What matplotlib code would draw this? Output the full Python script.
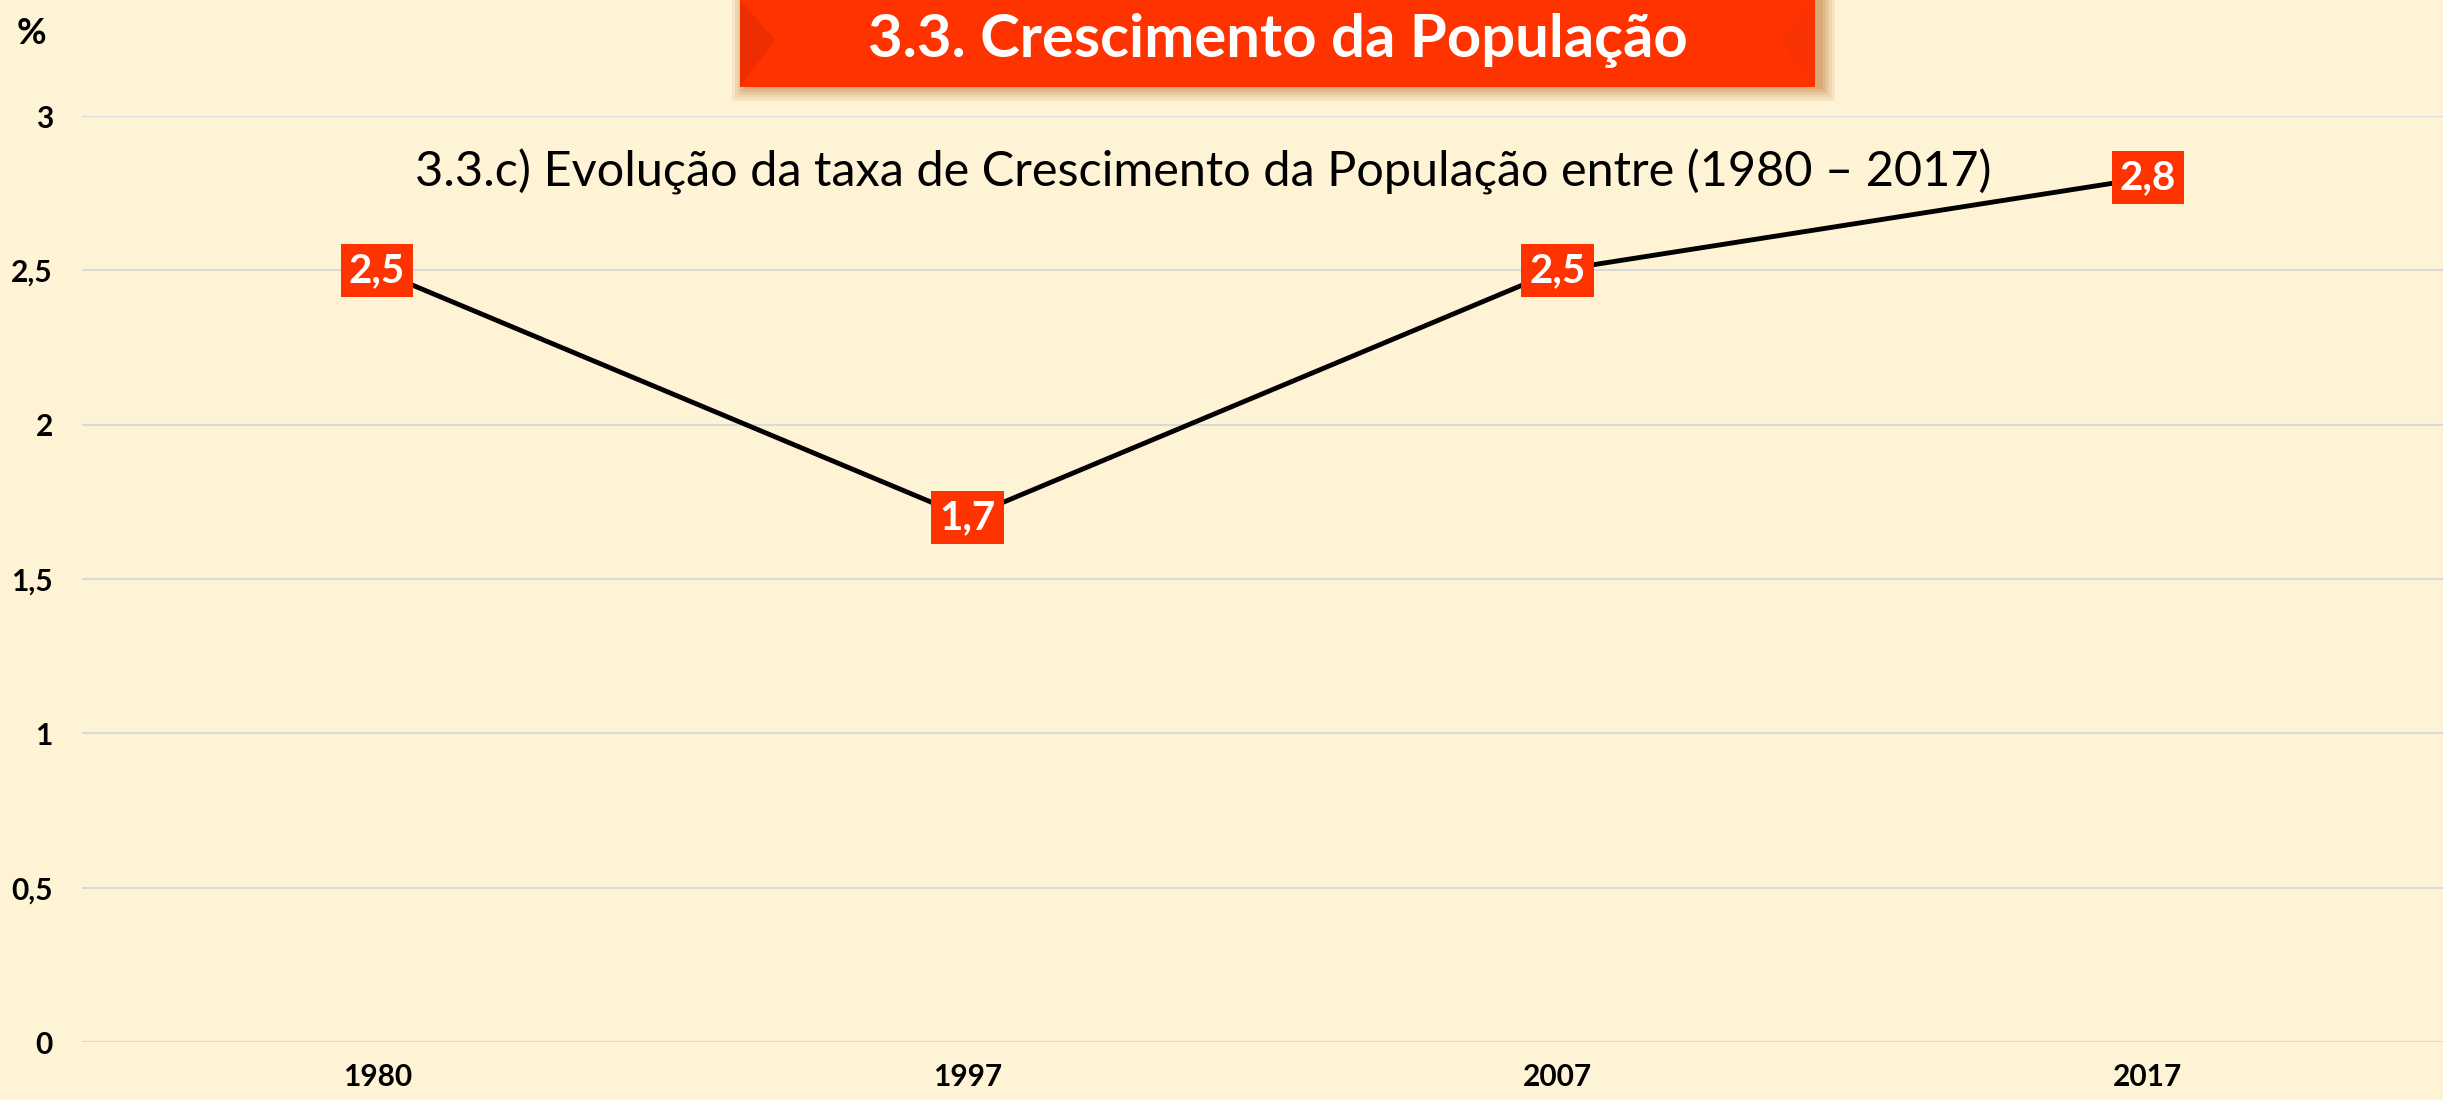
import matplotlib.pyplot as plt
from matplotlib.patches import Rectangle, Polygon

plt.rcParams['font.family'] = ['Lato', 'DejaVu Sans']

anos = ['1980', '1997', '2007', '2017']
taxa = [2.5, 1.7, 2.5, 2.8]
rotulos = ['2,5', '1,7', '2,5', '2,8']
yticks = [0, 0.5, 1, 1.5, 2, 2.5, 3]
ylabels = ['0', '0,5', '1', '1,5', '2', '2,5', '3']

W, H = 2443, 1100
bg = '#FFF3D6'
laranja = '#FF3300'

fig = plt.figure(figsize=(W / 100, H / 100), dpi=100, facecolor=bg)
ax = fig.add_axes([82 / W, 1 - 1042 / H, 1 - 82 / W, (1042 - 116) / H])
ax.set_facecolor(bg)

x = list(range(len(anos)))
ax.plot(x, taxa, color='black', lw=3.5, zorder=3)
for xi, yi, r in zip(x, taxa, rotulos):
    ax.text(xi, yi, r, ha='center', va='center', color='white', fontsize=29,
            fontweight='bold', zorder=4,
            bbox=dict(boxstyle='square,pad=0.2', fc=laranja, ec='none'))

ax.set_xlim(-0.5, 3.5)
ax.set_ylim(0, 3)
ax.set_xticks(x)
ax.set_xticklabels(anos, fontsize=21.5, fontweight='bold')
ax.set_yticks(yticks)
ax.set_yticklabels(ylabels, fontsize=21.5, fontweight='bold')
ax.tick_params(axis='both', length=0)
ax.tick_params(axis='y', pad=21)
ax.tick_params(axis='x', pad=15)
ax.grid(axis='y', color='#D9D9D9', lw=1.5)
ax.set_axisbelow(True)
for s in ax.spines.values():
    s.set_visible(False)

ax.text(0.475, 0.94, '3.3.c) Evolução da taxa de Crescimento da População entre (1980 \u2013 2017)',
        transform=ax.transAxes, ha='center', va='center', fontsize=35)

fig.text(31 / W, 1 - 34 / H, '%', ha='center', va='center', fontsize=26, fontweight='bold')

# caixa do título com sombra
x0, x1, y1 = 740, 1815, 87
for i, a in enumerate([0.10, 0.10, 0.12, 0.15, 0.18]):
    off = 14 - i * 3
    fig.patches.append(Rectangle(((x0 - off + 6) / W, 1 - (y1 + off) / H),
                                 (x1 - x0 + 2 * off) / W, (y1 + off) / H,
                                 transform=fig.transFigure, fc='#B5651D', ec='none', alpha=a))
fig.patches.append(Rectangle((x0 / W, 1 - y1 / H), (x1 - x0) / W, y1 / H,
                             transform=fig.transFigure, fc=laranja, ec='none'))
fig.patches.append(Polygon([(x0 / W, 1), ((x0 + 35) / W, 1 - 40 / H),
                            (x0 / W, 1 - y1 / H)], closed=True, transform=fig.transFigure,
                           fc='#EE2E00', ec='none'))
fig.patches.append(Polygon([(x1 / W, 1), ((x1 - 35) / W, 1 - 40 / H),
                            (x1 / W, 1 - y1 / H)], closed=True, transform=fig.transFigure,
                           fc='#F83200', ec='none'))
fig.text((x0 + x1) / 2 / W, 1 - 40 / H, '3.3. Crescimento da População', ha='center', va='center',
         color='white', fontsize=43, fontweight='bold')

fig.savefig('out.png', dpi=100, facecolor=bg)
